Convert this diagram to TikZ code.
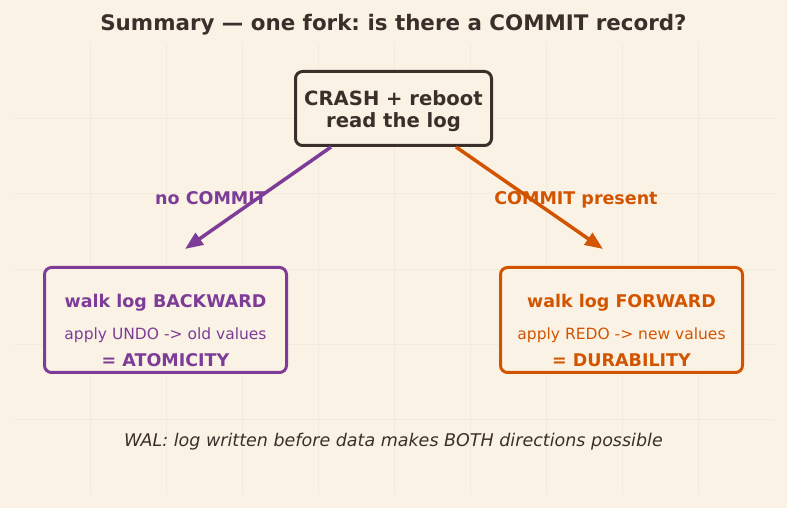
\documentclass[tikz,border=0pt]{standalone}
\usepackage{fontspec}
\setmainfont{DejaVu Sans}
\frenchspacing
\usetikzlibrary{arrows.meta,positioning}
\definecolor{paper}{HTML}{FAF3E5}
\definecolor{gridc}{HTML}{F2EADC}
\definecolor{ink}{HTML}{3A2F2A}
\definecolor{undoc}{HTML}{7D3C98}
\definecolor{redoc}{HTML}{D35400}

\begin{document}
\begin{tikzpicture}[
  x=1pt,y=1pt,
  box/.style={rectangle,draw,rounded corners=7pt,line width=3pt,fill=paper,minimum width=242pt,minimum height=105pt},
  head/.style={font=\fontsize{17.5}{21}\selectfont\bfseries,anchor=base},
  note/.style={font=\fontsize{15.5}{18}\selectfont,anchor=base},
  tag/.style={font=\fontsize{17.5}{21}\selectfont\bfseries,anchor=base},
  arrow/.style={-{Triangle[length=18pt,width=14pt]},line width=3.5pt}
]
% background and faint grid
\fill[paper] (0,0) rectangle (787,508);
\foreach \i in {1,...,9} \draw[gridc,line width=0.8pt] (14+76*\i,13) -- (14+76*\i,465);
\foreach \j in {1,...,5} \draw[gridc,line width=0.8pt] (14,13+75.3*\j) -- (774,13+75.3*\j);
\useasboundingbox (0,0) rectangle (787,508);

\node[font=\fontsize{21.4}{25}\selectfont\bfseries,text=ink,anchor=base] (title) at (393.5,477)
  {Summary — one fork: is there a COMMIT record?};

\node[box,draw=ink,minimum width=196pt,minimum height=74pt,align=center,
  font=\fontsize{19.6}{21.7}\selectfont\bfseries,text=ink] (crash) at (393.5,399.5)
  {\rule{0pt}{20pt}CRASH + reboot\\read the log};

% UNDO side
\node[box,draw=undoc] (undo) at (165.5,188) {};
\node[head,text=undoc] (undoHead) at (165.5,200.7) {walk log BACKWARD};
\node[note,text=undoc] (undoNote) at (165.5,168) {apply UNDO -> old values};
\node[head,text=undoc] (undoGoal) at (165.5,141.3) {= ATOMICITY};

% REDO side
\node[box,draw=redoc] (redo) at (621.5,188) {};
\node[head,text=redoc] (redoHead) at (621.5,200.7) {walk log FORWARD};
\node[note,text=redoc] (redoNote) at (621.5,168) {apply REDO -> new values};
\node[head,text=redoc] (redoGoal) at (621.5,141.3) {= DURABILITY};

\node[tag,text=undoc] (noCommit) at (211,303) {no COMMIT};
\node[tag,text=redoc] (yesCommit) at (576,303) {COMMIT present};

\coordinate (undoTip) at (185,259);
\coordinate (redoTip) at (603,259);
\draw[arrow,undoc] ([xshift=-62.5pt]crash.south) -- (undoTip);
\draw[arrow,redoc] ([xshift=62.5pt]crash.south) -- (redoTip);

\node[font=\fontsize{17.5}{21}\selectfont\itshape,text=ink,anchor=base] (wal) at (393.5,61.3)
  {WAL: log written before data makes BOTH directions possible};
\end{tikzpicture}
\end{document}
